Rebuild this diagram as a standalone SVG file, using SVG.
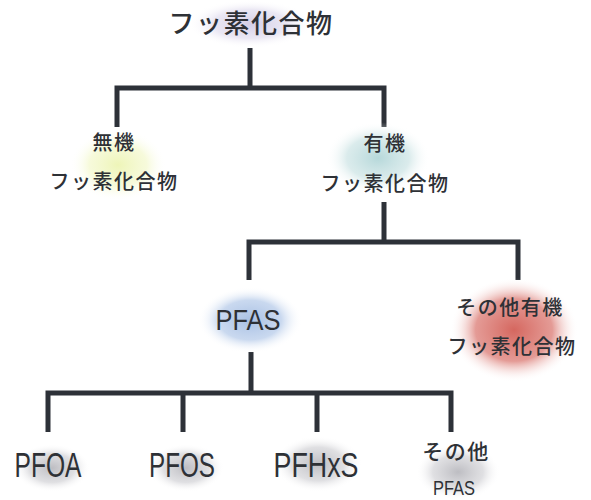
<svg xmlns="http://www.w3.org/2000/svg" width="591" height="500" viewBox="0 0 591 500">
<defs>
<radialGradient id="gLav"><stop offset="0" stop-color="#cfc8e4" stop-opacity="0.9"/><stop offset="0.6" stop-color="#ddd8ec" stop-opacity="0.6"/><stop offset="1" stop-color="#ffffff" stop-opacity="0"/></radialGradient>
<radialGradient id="gYel"><stop offset="0" stop-color="#eef5b8" stop-opacity="1"/><stop offset="0.6" stop-color="#f3f8cc" stop-opacity="0.7"/><stop offset="1" stop-color="#ffffff" stop-opacity="0"/></radialGradient>
<radialGradient id="gTeal"><stop offset="0" stop-color="#b6d8da" stop-opacity="1"/><stop offset="0.6" stop-color="#cbe3e4" stop-opacity="0.7"/><stop offset="1" stop-color="#ffffff" stop-opacity="0"/></radialGradient>
<radialGradient id="gBlue"><stop offset="0" stop-color="#a8c0e4" stop-opacity="1"/><stop offset="0.6" stop-color="#bccfeb" stop-opacity="0.8"/><stop offset="1" stop-color="#ffffff" stop-opacity="0"/></radialGradient>
<radialGradient id="gRed"><stop offset="0" stop-color="#d5675f" stop-opacity="1"/><stop offset="0.6" stop-color="#df8983" stop-opacity="0.85"/><stop offset="1" stop-color="#ffffff" stop-opacity="0"/></radialGradient>
<radialGradient id="gGrey"><stop offset="0" stop-color="#bdbdc2" stop-opacity="1"/><stop offset="0.6" stop-color="#d2d2d6" stop-opacity="0.7"/><stop offset="1" stop-color="#ffffff" stop-opacity="0"/></radialGradient>
</defs>
<style>
.jp{font-family:"Noto Sans CJK JP","Noto Sans",sans-serif;fill:#2e3136;text-anchor:middle;letter-spacing:1.5px;font-weight:500}
.en{font-family:"Liberation Sans",Arial,sans-serif;fill:#2e3136;text-anchor:middle}
.con{fill:none;stroke:#2d3138;stroke-width:5;stroke-linejoin:miter;stroke-linecap:butt}
</style>
<rect width="591" height="500" fill="#ffffff"/>
<g id="connectors">
<path class="con" d="M250 48 V88 M117 127 V88 H384 V127"/>
<path class="con" d="M384 202 V242 M249 280 V242 H518 V280"/>
<path class="con" d="M251 352 V393 M48 432 V393 H451 V432 M183 393 V432 M317 393 V432"/>
</g>
<g id="root">
<ellipse cx="250" cy="24" rx="62" ry="24" fill="url(#gLav)"/>
<text class="jp" x="251" y="33" font-size="26">フッ素化合物</text>
</g>
<g id="inorganic">
<ellipse cx="118" cy="165" rx="48" ry="36" fill="url(#gYel)"/>
<text class="jp" x="114" y="150" font-size="20">無機</text>
<text class="jp" x="114" y="189" font-size="20">フッ素化合物</text>
</g>
<g id="organic">
<ellipse cx="378" cy="158" rx="52" ry="36" fill="url(#gTeal)"/>
<text class="jp" x="385" y="151" font-size="20">有機</text>
<text class="jp" x="385" y="191" font-size="20">フッ素化合物</text>
</g>
<g id="pfas">
<ellipse cx="250" cy="320" rx="52" ry="33" fill="url(#gBlue)"/>
<text class="en" x="248" y="330" font-size="30" textLength="65" lengthAdjust="spacingAndGlyphs">PFAS</text>
</g>
<g id="other-organic">
<ellipse cx="514" cy="330" rx="64" ry="52" fill="url(#gRed)"/>
<text class="jp" x="510" y="315" font-size="20">その他有機</text>
<text class="jp" x="512" y="354" font-size="20">フッ素化合物</text>
</g>
<g id="pfoa">
<ellipse cx="52" cy="468" rx="38" ry="24" fill="url(#gGrey)"/>
<text class="en" x="48" y="477" font-size="35" textLength="67" lengthAdjust="spacingAndGlyphs">PFOA</text>
</g>
<g id="pfos">
<ellipse cx="186" cy="468" rx="38" ry="24" fill="url(#gGrey)"/>
<text class="en" x="182" y="477" font-size="35" textLength="66" lengthAdjust="spacingAndGlyphs">PFOS</text>
</g>
<g id="pfhxs">
<ellipse cx="318" cy="464" rx="44" ry="28" fill="url(#gGrey)"/>
<text class="en" x="316" y="477" font-size="35" textLength="85" lengthAdjust="spacingAndGlyphs">PFHxS</text>
</g>
<g id="other-pfas">
<ellipse cx="458" cy="472" rx="42" ry="28" fill="url(#gGrey)"/>
<text class="jp" x="456" y="459" font-size="21">その他</text>
<text class="en" x="454" y="495" font-size="21" textLength="42" lengthAdjust="spacingAndGlyphs">PFAS</text>
</g>
</svg>
